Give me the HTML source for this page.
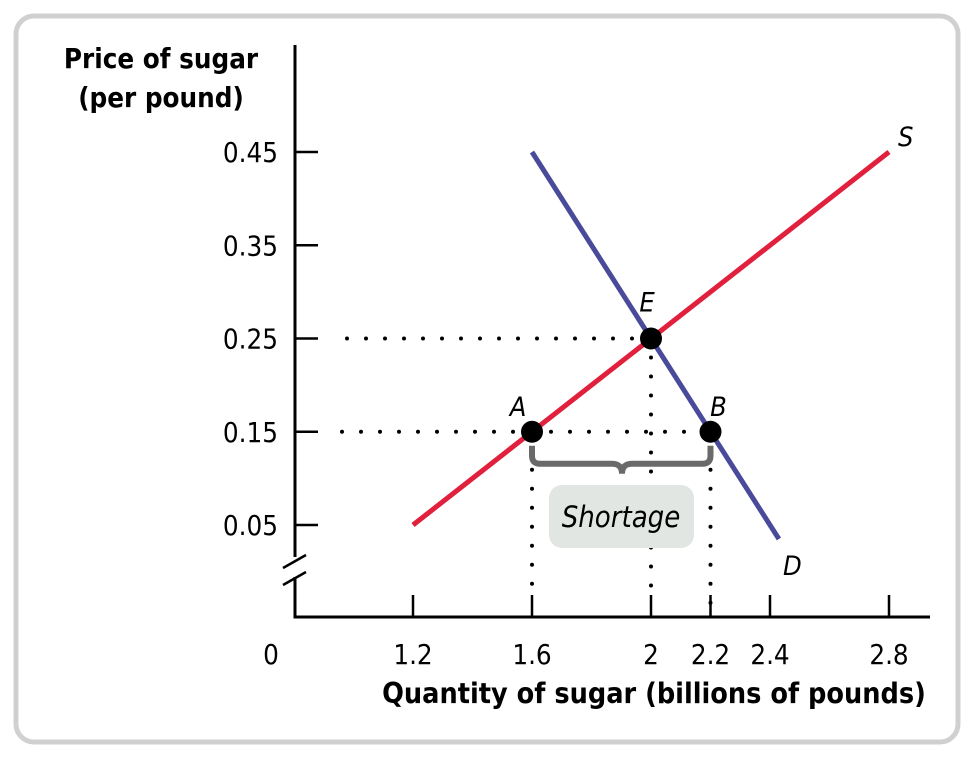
<!DOCTYPE html>
<html><head><meta charset="utf-8"><style>
body{margin:0;background:#fff;width:975px;height:758px;overflow:hidden}
svg{position:absolute;left:0;top:0}
text{font-family:"DejaVu Sans Condensed","Liberation Sans",sans-serif;fill:#000}
</style></head><body>
<svg width="975" height="758">
<rect x="16" y="16" width="942" height="726" rx="18" fill="#fff" stroke="#d0d0d0" stroke-width="5"/>
<g id="g"></g>
</svg>
<script>
const xTicks=[1.2,1.6,2,2.2,2.4,2.8];
const xTickLabels=["1.2","1.6","2","2.2","2.4","2.8"];
const yTicks=[0.45,0.35,0.25,0.15,0.05];
const yTickLabels=["0.45","0.35","0.25","0.15","0.05"];
const supplyQ=[1.2,2.8];
const supplyP=[0.05,0.45];
const demandQ=[1.6,2.43];
const demandP=[0.45,0.035];
const pointNames=["E","A","B"];
const pointQ=[2,1.6,2.2];
const pointP=[0.25,0.15,0.15];

const X=q=>413+(q-1.2)*297.5;
const Y=p=>525-(p-0.05)*932.5;
const NS="http://www.w3.org/2000/svg";
const g=document.getElementById('g');
function mk(t,a,txt){const e=document.createElementNS(NS,t);for(const k in a)e.setAttribute(k,a[k]);if(txt!==undefined)e.textContent=txt;g.appendChild(e);return e;}
let e;
e=mk('path',{d:'M295,45V557M295,577V617H930',stroke:'#000','stroke-width':3,fill:'none'});


e=mk('path',{d:'M283,568L306,555M283,585L306,572',stroke:'#000','stroke-width':2.5,fill:'none'});


yTicks.forEach((p,i)=>{
 e=mk('line',{x1:295,x2:318,y1:Y(p),y2:Y(p),stroke:'#000','stroke-width':2.5});
 
 
 e=mk('text',{x:278,y:Y(p)+10,'text-anchor':'end','font-size':27.5},yTickLabels[i]);
 
 
});
xTicks.forEach((q,i)=>{
 e=mk('line',{x1:X(q),x2:X(q),y1:617,y2:595,stroke:'#000','stroke-width':2.5});
 
 
 e=mk('text',{x:X(q),y:664,'text-anchor':'middle','font-size':27.5},xTickLabels[i]);
 
 
});
e=mk('text',{x:271,y:664,'text-anchor':'middle','font-size':27.5},'0');


e=mk('text',{x:161,y:68,'text-anchor':'middle','font-size':27.5,'font-weight':'bold'},'Price of sugar');


e=mk('text',{x:161,y:107,'text-anchor':'middle','font-size':27.5,'font-weight':'bold'},'(per pound)');


e=mk('text',{x:654,y:703,'text-anchor':'middle','font-size':28.5,'font-weight':'bold'},'Quantity of sugar (billions of pounds)');


function dots(x1,y1,x2,y2){e=mk('line',{x1,y1,x2,y2,stroke:'#000','stroke-width':4,'stroke-linecap':'round','stroke-dasharray':'0 19'});return e;}
e=dots(X(2)-19,Y(0.25),328,Y(0.25));
e=dots(X(1.6)-19,Y(0.15),328,Y(0.15));
e=dots(X(1.6)+19,Y(0.15),X(2.2)-10,Y(0.15));
e=dots(X(2),Y(0.25)+19,X(2),600);
e=dots(X(1.6),Y(0.15)+19,X(1.6),600);
e=dots(X(2.2),Y(0.15)+19,X(2.2),610);
e=mk('line',{x1:X(supplyQ[0]),y1:Y(supplyP[0]),x2:X(supplyQ[1]),y2:Y(supplyP[1]),stroke:'#e0203c','stroke-width':5});


e=mk('line',{x1:X(demandQ[0]),y1:Y(demandP[0]),x2:X(demandQ[1]),y2:Y(demandP[1]),stroke:'#4a4a9a','stroke-width':5});


e=mk('text',{x:898,y:146,'font-size':27,'font-style':'italic'},'S');


e=mk('text',{x:783,y:575,'font-size':27,'font-style':'italic'},'D');


const bx1=X(1.6),bx2=X(2.2),bm=622;
e=mk('path',{d:`M${bx1},${Y(0.15)+14} v10 q0,8 8,8 H${bm-10} q10,0 10,10 q0,-10 10,-10 H${bx2-8} q8,0 8,-8 v-10`,stroke:'#6a6a6a','stroke-width':6,fill:'none'});


e=mk('rect',{x:549,y:485,width:145,height:63,rx:13,fill:'#e1e6e3'});


e=mk('text',{x:621,y:527,'text-anchor':'middle','font-size':29,'font-style':'italic'},'Shortage');


const off=[[-4,-27],[-14,-16],[8,-16]];
pointNames.forEach((n,i)=>{
 e=mk('circle',{cx:X(pointQ[i]),cy:Y(pointP[i]),r:11,fill:'#000'});
 
 
 e=mk('text',{x:X(pointQ[i])+off[i][0],y:Y(pointP[i])+off[i][1],'text-anchor':'middle','font-size':27,'font-style':'italic'},n);
 
 
});
</script>
</body></html>
